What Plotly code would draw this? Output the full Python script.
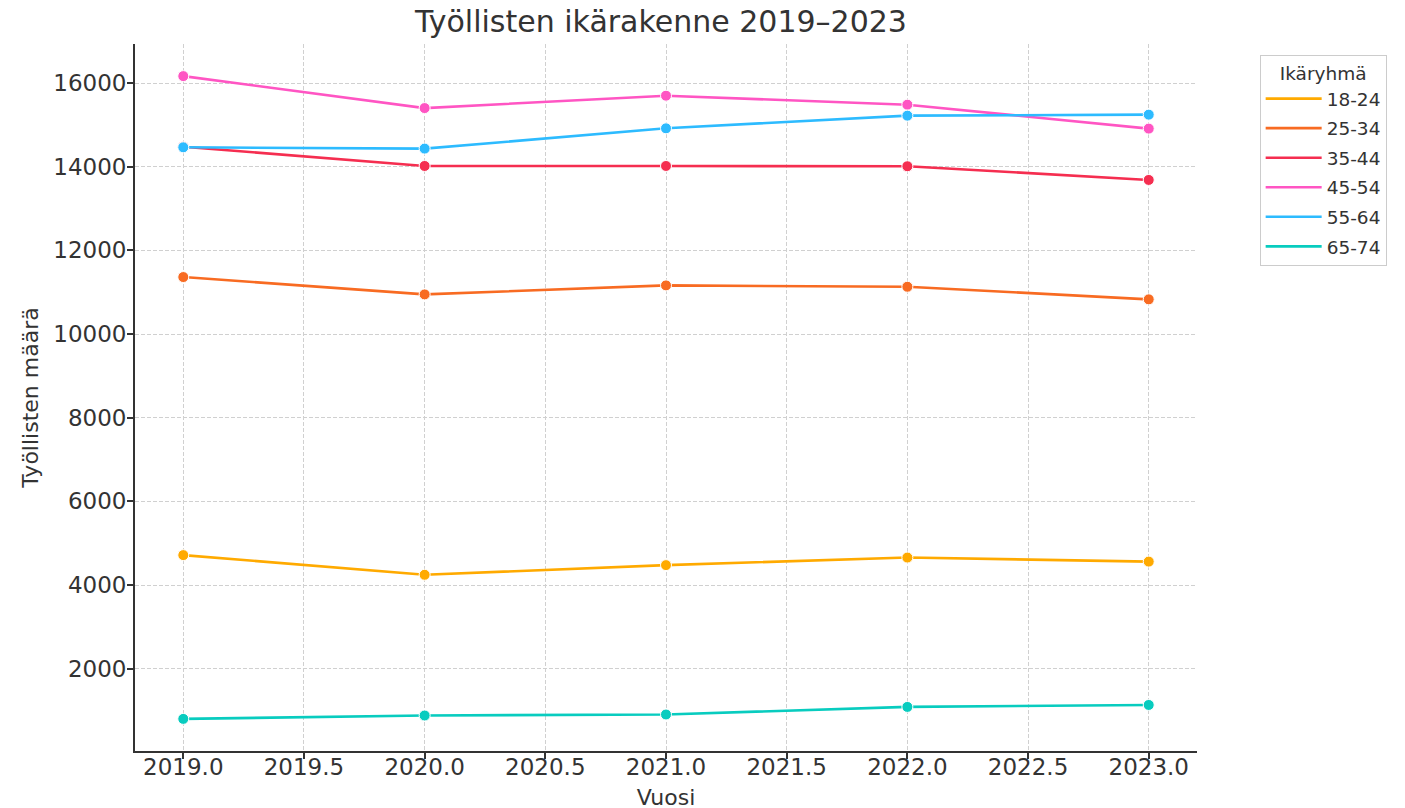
import plotly.graph_objects as go

years = [2019, 2020, 2021, 2022, 2023]
groups = ["18-24", "25-34", "35-44", "45-54", "55-64", "65-74"]
values_18_24 = [4715, 4245, 4476, 4657, 4560]
values_25_34 = [11363, 10949, 11164, 11131, 10830]
values_35_44 = [14480, 14019, 14019, 14012, 13685]
values_45_54 = [16167, 15403, 15699, 15484, 14912]
values_55_64 = [14465, 14434, 14919, 15222, 15246]
values_65_74 = [800, 881, 905, 1086, 1133]
series = [values_18_24, values_25_34, values_35_44, values_45_54, values_55_64, values_65_74]
colors = ["#FFAA00", "#F86B22", "#F52E50", "#FF55C3", "#2DBBFF", "#08CCBF"]

x_ticks = [2019.0, 2019.5, 2020.0, 2020.5, 2021.0, 2021.5, 2022.0, 2022.5, 2023.0]
y_ticks = [2000, 4000, 6000, 8000, 10000, 12000, 14000, 16000]

font_family = "DejaVu Sans"
text_color = "#333333"

fig = go.Figure()
for name, vals, col in zip(groups, series, colors):
    fig.add_trace(go.Scatter(
        x=years, y=vals, name=name, mode="lines", legendgroup=name,
        line=dict(color=col, width=2.6), showlegend=True,
    ))
    fig.add_trace(go.Scatter(
        x=years, y=vals, name=name, mode="markers", legendgroup=name,
        marker=dict(color=col, size=11, line=dict(color="white", width=1)),
        showlegend=False,
    ))

fig.update_layout(
    width=1405, height=808,
    margin=dict(l=127, r=216, t=36, b=65),
    paper_bgcolor="white", plot_bgcolor="white",
    font=dict(family=font_family, color=text_color, size=23),
    title=dict(text="Työllisten ikärakenne 2019–2023", x=0.4953, xref="paper",
               xanchor="center", y=1, yref="container", yanchor="top",
               pad=dict(t=3, b=0),
               font=dict(size=30, family=font_family, color=text_color),
               automargin=False),
    legend=dict(
        title=dict(text="Ikäryhmä", side="top center", font=dict(size=18.5)),
        x=1.059, y=0.9844, xanchor="left", yanchor="top",
        bordercolor="#cccccc", borderwidth=1,
        font=dict(size=18.5, family=font_family, color=text_color),
        bgcolor="white", tracegroupgap=2.5, itemwidth=56,
    ),
    showlegend=True,
)
fig.update_xaxes(
    range=[2018.8, 2023.2], tickvals=x_ticks,
    ticktext=[f"{t:.1f}" for t in x_ticks],
    showgrid=True, gridcolor="#d0d0d0", griddash="4px,2px", gridwidth=1,
    showline=True, linecolor="#333333", linewidth=1.8,
    ticks="outside", ticklen=6, tickwidth=1.5, tickcolor="#333333",
    zeroline=False, automargin=False, ticklabelstandoff=-12,
    title=dict(text="Vuosi", font=dict(size=22), standoff=11),
    tickfont=dict(size=23),
)
fig.update_yaxes(
    range=[32, 16935], tickvals=y_ticks,
    ticktext=[str(t) for t in y_ticks],
    showgrid=True, gridcolor="#d0d0d0", griddash="4px,2px", gridwidth=1,
    showline=True, linecolor="#333333", linewidth=1.8,
    ticks="outside", ticklen=6, tickwidth=1.5, tickcolor="#333333",
    zeroline=False, automargin=False, ticklabelstandoff=-4,
    title=dict(text="Työllisten määrä", font=dict(size=22), standoff=9),
    tickfont=dict(size=23),
)

fig.write_html("out.html")
